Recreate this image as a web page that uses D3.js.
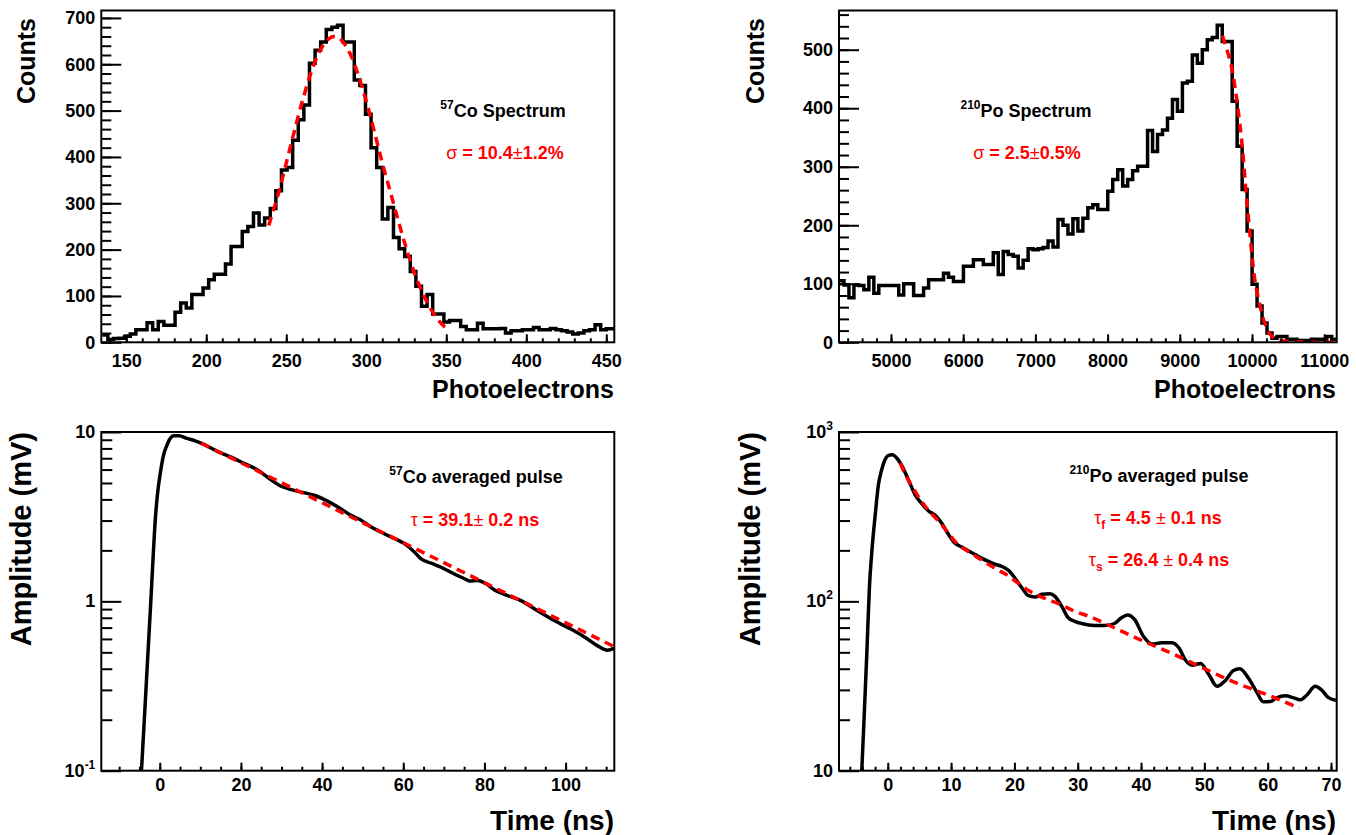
<!DOCTYPE html>
<html>
<head>
<meta charset="utf-8">
<title>Co-57 / Po-210 spectra and pulses</title>
<script src="https://cdn.jsdelivr.net/npm/d3@7/dist/d3.min.js"></script>
<style>
  body { margin: 0; background: #fff; }
  svg text { font-family: "Liberation Sans", Arial, Helvetica, sans-serif; font-weight: bold; fill: #000; }
  .tick text { font-size: 18px; }
  .tick line { stroke: #000; stroke-width: 2px; }
  .frame { fill: none; stroke: #000; stroke-width: 2px; }
  .hist, .pulse { fill: none; stroke: #000; stroke-width: 3.5px; }
  .fit { fill: none; stroke: #ff0000; stroke-width: 3.5px; stroke-dasharray: 9,6; }
  .red { fill: #ff0000; }
</style>
</head>
<body>
<svg id="chart" width="1356" height="835"></svg>
<script>

// ---- 57Co spectrum (top left) ----
var coBinLow = 135, coBinWidth = 3.5;
var coCounts = [16, 6, 8, 9, 13, 18, 27, 27, 42, 27, 45, 37, 37, 65, 85, 74, 103, 103, 117, 135,
  147, 147, 169, 207, 207, 239, 250, 279, 253, 268, 289, 327, 372, 377, 436, 480, 512, 602, 630, 648,
  675, 680, 684, 648, 648, 566, 554, 492, 420, 377, 266, 291, 226, 202, 185, 153, 121, 78, 103, 61,
  61, 44, 47, 47, 34, 27, 27, 41, 29, 29, 29, 30, 20, 25, 25, 27, 27, 32, 27, 27,
  30, 27, 25, 22, 18, 20, 25, 27, 38, 27, 29, 29];
var coFit = [[239, 252], [242, 285], [245, 320], [250, 387], [255, 455], [260, 520], [265, 577],
  [270, 622], [275, 650], [280, 660], [285, 650], [290, 622], [295, 577], [300, 520], [305, 455],
  [310, 387], [315, 325], [320, 262], [325, 203], [330, 150], [335, 108], [340, 74], [345, 48], [351, 27]];
var coTicks = [150, 200, 250, 300, 350, 400, 450];

// ---- 210Po spectrum (top right) ----
var poBinLow = 4280, poBinWidth = 68.93;
var poCounts = [105, 98, 76, 98, 97, 90, 111, 84, 97, 97, 97, 97, 81, 100, 100, 80, 80, 93, 107, 107,
  107, 118, 111, 104, 104, 130, 130, 141, 141, 133, 133, 153, 116, 155, 150, 147, 127, 140, 160, 158,
  160, 162, 173, 163, 210, 200, 185, 211, 190, 212, 230, 235, 227, 227, 258, 278, 295, 267, 278, 293,
  301, 301, 362, 326, 355, 363, 383, 415, 395, 443, 446, 491, 477, 500, 517, 521, 542, 514, 514, 412,
  335, 261, 190, 99, 62, 33, 16, 7, 10, 10, 5, 5, 3, 3, 3, 5, 5, 5, 10, 5];
var poFit = [[9590, 524], [9660, 497], [9729, 463], [9798, 406], [9867, 332], [9913, 264], [9959, 201],
  [10029, 116], [10098, 70], [10167, 36], [10237, 16], [10300, 8], [10352, 5], [10467, 2], [10600, 1], [11173, 0]];
var poTicks = [5000, 6000, 7000, 8000, 9000, 10000, 11000];

// ---- 57Co averaged pulse (bottom left) ----
var coPulse = [[-4.5, 0.1], [-3.8, 0.2], [-3.0, 0.45], [-2.2, 1.0], [-1.7, 1.7], [-1.2, 2.8], [-0.6, 4.2],
  [0.25, 5.95], [1.0, 7.4], [1.64, 8.2], [2.5, 9.1], [3.5, 9.5], [4.8, 9.5], [6.5, 9.2], [8.6, 8.9],
  [11.1, 8.4], [14.3, 7.66], [17.6, 7.1], [20.9, 6.5], [24.2, 5.95], [27.5, 5.2], [29.9, 4.78],
  [32.4, 4.57], [35.7, 4.37], [38.1, 4.23], [40.6, 3.99], [43.9, 3.61], [47.1, 3.22], [49.2, 3.05],
  [52.1, 2.75], [56.2, 2.45], [60.3, 2.19], [62.8, 1.95], [64.4, 1.78], [66.9, 1.68], [69.3, 1.59],
  [72.6, 1.45], [75.1, 1.36], [76.3, 1.32], [78.4, 1.33], [80.4, 1.27], [82.4, 1.17], [84.9, 1.10],
  [89.0, 1.01], [93.1, 0.88], [97.2, 0.77], [101.3, 0.686], [105.4, 0.60], [107.9, 0.546],
  [110.3, 0.515], [112, 0.53]];
var coPulseFit = [[10.2, 8.6], [112, 0.54]];
var coPulseTicks = [0, 20, 40, 60, 80, 100];

// ---- 210Po averaged pulse (bottom right) ----
var poPulse = [[-4.1, 10], [-3.7, 22], [-3.3, 50], [-2.9, 120], [-2.5, 200], [-2.0, 318], [-1.47, 489],
  [-0.95, 600], [-0.42, 687], [0.1, 728], [0.74, 735], [1.42, 702], [2.2, 635], [3.26, 522], [4.3, 427],
  [5.4, 376], [6.4, 343], [7.5, 322], [8.5, 290], [9.6, 248], [10.6, 221], [11.7, 209], [12.7, 199],
  [13.8, 189], [14.8, 180], [15.9, 172], [16.9, 166], [18.0, 161], [19.1, 152], [20.1, 137], [21.2, 120],
  [22.2, 108], [23.3, 106], [24.3, 110], [25.6, 111], [26.4, 107], [27.5, 93], [28.5, 80], [29.6, 76],
  [30.6, 74], [32.7, 72], [34.3, 72], [35.8, 74], [36.9, 80], [37.9, 83], [39.0, 78], [40.4, 62],
  [41.7, 56], [43.3, 57], [44.9, 57], [46.0, 53], [47.0, 45], [48.1, 42], [49.4, 43], [50.7, 37],
  [52.0, 31.5], [53.3, 34], [54.6, 39], [55.6, 40], [57.0, 35], [58.3, 29], [59.3, 25.5], [60.4, 25.6],
  [61.4, 26.9], [62.8, 27.7], [64.1, 26.9], [65.1, 26.2], [66.2, 28], [67.5, 31.5], [68.5, 30],
  [69.6, 27], [70.9, 26]];
var poPulseFit = [[1.95, 656], [3.0, 540], [4.3, 447], [5.3, 390], [6.4, 347], [7.5, 312], [8.5, 284],
  [9.6, 252], [10.6, 226], [12.7, 197], [14.8, 176], [16.9, 157], [19.1, 141], [21.2, 123], [23.3, 110],
  [25.4, 102], [27.5, 95], [29.6, 87], [31.7, 82], [35, 72], [40, 59], [45, 49], [50, 40], [55, 33],
  [60, 28], [65, 23.4]];
var poPulseTicks = [0, 10, 20, 30, 40, 50, 60, 70];

var svg = d3.select("#chart");
var defs = svg.append("defs");

var leftBox = {x0: 101.3, x1: 614.3}, rightBox = {x0: 839, x1: 1336.7};
var topBox = {y0: 10.5, y1: 342.3}, botBox = {y0: 432, y1: 770.7};

function clipFor(id, b) {
  defs.append("clipPath").attr("id", id).append("rect")
    .attr("x", b.x0).attr("y", b.y0).attr("width", b.x1 - b.x0).attr("height", b.y1 - b.y0);
  return "url(#" + id + ")";
}

function histPoints(low, width, counts) {
  var pts = counts.map(function(c, i) { return [low + i * width, c]; });
  pts.push([low + counts.length * width, counts[counts.length - 1]]);
  return pts;
}

function range(a, b, s) {
  var out = [];
  for (var v = a; v <= b + 1e-9; v += s) out.push(+v.toFixed(6));
  return out;
}

function xAxes(x, b, major, minor, pad) {
  svg.append("g").attr("transform", "translate(0," + b.y1 + ")")
    .call(d3.axisBottom(x).tickValues(minor).tickSize(-4).tickFormat(""))
    .call(function(g) { g.select(".domain").remove(); });
  svg.append("g").attr("transform", "translate(0," + b.y1 + ")")
    .call(d3.axisBottom(x).tickValues(major).tickSize(-8).tickPadding(pad).tickFormat(d3.format("d")))
    .call(function(g) { g.select(".domain").remove(); });
}

function linYAxes(y, b, major, minor) {
  svg.append("g").attr("transform", "translate(" + b.x0 + ",0)")
    .call(d3.axisLeft(y).tickValues(minor).tickSize(-10).tickFormat(""))
    .call(function(g) { g.select(".domain").remove(); });
  svg.append("g").attr("transform", "translate(" + b.x0 + ",0)")
    .call(d3.axisLeft(y).tickValues(major).tickSize(-20).tickPadding(6).tickFormat(d3.format("d")))
    .call(function(g) { g.select(".domain").remove(); });
}

function logYAxes(y, b, decades) {
  var minor = [];
  decades.slice(0, -1).forEach(function(d) { for (var k = 2; k <= 9; k++) minor.push(d * k); });
  svg.append("g").attr("transform", "translate(" + b.x0 + ",0)")
    .call(d3.axisLeft(y).tickValues(minor).tickSize(-11).tickFormat(""))
    .call(function(g) { g.select(".domain").remove(); });
  svg.append("g").attr("transform", "translate(" + b.x0 + ",0)")
    .call(d3.axisLeft(y).tickValues(decades).tickSize(-20).tickFormat(""))
    .call(function(g) { g.select(".domain").remove(); });
  decades.forEach(function(d) {
    var e = Math.round(Math.log10(d));
    var t = svg.append("text").attr("text-anchor", "end").attr("font-size", 18)
      .attr("x", b.x0 - 6).attr("y", y(d) + 6);
    if (e === 0) t.text("1");
    else if (e === 1) t.text("10");
    else {
      t.append("tspan").text("10");
      t.append("tspan").attr("font-size", 12).attr("dy", -8).text(e);
    }
  });
}

function frame(b) {
  svg.append("rect").attr("class", "frame")
    .attr("x", b.x0).attr("y", b.y0).attr("width", b.x1 - b.x0).attr("height", b.y1 - b.y0);
}

function yTitle(x0, y0, txt, size) {
  svg.append("text").attr("transform", "translate(" + x0 + "," + y0 + ") rotate(-90)")
    .attr("text-anchor", "end").attr("font-size", size).text(txt);
}

function xTitle(x0, y0, txt, size) {
  svg.append("text").attr("x", x0).attr("y", y0).attr("text-anchor", "end")
    .attr("font-size", size).text(txt);
}

function label(cx, y, parts, red) {
  var t = svg.append("text").attr("x", cx).attr("y", y).attr("text-anchor", "middle")
    .attr("font-size", 18).attr("class", red ? "red" : null);
  parts.forEach(function(p) {
    var s = t.append("tspan").text(p.t);
    if (p.sup) s.attr("font-size", 12).attr("dy", -8);
    if (p.sub) s.attr("font-size", 12).attr("dy", 5);
    if (p.back) s.attr("dy", p.back);
    if (p.normal) s.attr("font-weight", "normal");
  });
}

// ---------- top left ----------
(function() {
  var b = {x0: leftBox.x0, x1: leftBox.x1, y0: topBox.y0, y1: topBox.y1};
  var x = d3.scaleLinear().domain([134.4, 455]).range([b.x0, b.x1]);
  var y = d3.scaleLinear().domain([0, 716]).range([b.y1, b.y0]);
  var clip = clipFor("c1", b);
  var line = d3.line().x(function(d) { return x(d[0]); }).y(function(d) { return y(d[1]); });
  svg.append("path").attr("class", "hist").attr("clip-path", clip)
    .attr("d", line.curve(d3.curveStepAfter)(histPoints(coBinLow, coBinWidth, coCounts)));
  svg.append("path").attr("class", "fit").attr("clip-path", clip)
    .attr("d", line.curve(d3.curveMonotoneX)(coFit));
  xAxes(x, b, coTicks, range(140, 450, 10), 12);
  linYAxes(y, b, range(0, 700, 100), range(0, 700, 20));
  frame(b);
  yTitle(35, 18, "Counts", 25);
  xTitle(614, 398, "Photoelectrons", 25);
  label(503, 117, [{t: "57", sup: true}, {t: "Co Spectrum", back: 8}]);
  label(505, 159, [{t: "\u03c3", normal: true}, {t: " = 10.4"}, {t: "\u00b1", normal: true}, {t: "1.2%"}], true);
})();

// ---------- top right ----------
(function() {
  var b = {x0: rightBox.x0, x1: rightBox.x1, y0: topBox.y0, y1: topBox.y1};
  var x = d3.scaleLinear().domain([4280, 11173]).range([b.x0, b.x1]);
  var y = d3.scaleLinear().domain([0, 567]).range([b.y1, b.y0]);
  var clip = clipFor("c2", b);
  var line = d3.line().x(function(d) { return x(d[0]); }).y(function(d) { return y(d[1]); });
  svg.append("path").attr("class", "hist").attr("clip-path", clip)
    .attr("d", line.curve(d3.curveStepAfter)(histPoints(poBinLow, poBinWidth, poCounts)));
  svg.append("path").attr("class", "fit").attr("clip-path", clip)
    .attr("d", line.curve(d3.curveMonotoneX)(poFit));
  xAxes(x, b, poTicks, range(4400, 11000, 200), 12);
  linYAxes(y, b, range(0, 500, 100), range(0, 560, 20));
  frame(b);
  yTitle(764, 18, "Counts", 25);
  xTitle(1336, 398, "Photoelectrons", 25);
  label(1026, 117, [{t: "210", sup: true}, {t: "Po Spectrum", back: 8}]);
  label(1027, 159, [{t: "\u03c3", normal: true}, {t: " = 2.5"}, {t: "\u00b1", normal: true}, {t: "0.5%"}], true);
})();

// ---------- bottom left ----------
(function() {
  var b = {x0: leftBox.x0, x1: leftBox.x1, y0: botBox.y0, y1: botBox.y1};
  var x = d3.scaleLinear().domain([-14.4, 112]).range([b.x0, b.x1]);
  var y = d3.scaleLog().domain([0.1, 10]).range([b.y1, b.y0]);
  var clip = clipFor("c3", b);
  var line = d3.line().x(function(d) { return x(d[0]); }).y(function(d) { return y(d[1]); });
  svg.append("path").attr("class", "pulse").attr("clip-path", clip)
    .attr("d", line.curve(d3.curveMonotoneX)(coPulse));
  svg.append("path").attr("class", "fit").attr("clip-path", clip)
    .attr("d", line.curve(d3.curveLinear)(coPulseFit));
  xAxes(x, b, coPulseTicks, range(-10, 110, 5), 8);
  logYAxes(y, b, [0.1, 1, 10]);
  frame(b);
  yTitle(31, 432, "Amplitude (mV)", 29);
  xTitle(614, 830, "Time (ns)", 28);
  label(476, 483, [{t: "57", sup: true}, {t: "Co averaged pulse", back: 8}]);
  label(475, 526, [{t: "\u03c4", normal: true}, {t: " = 39.1"}, {t: "\u00b1", normal: true}, {t: " 0.2 ns"}], true);
})();

// ---------- bottom right ----------
(function() {
  var b = {x0: rightBox.x0, x1: rightBox.x1, y0: botBox.y0, y1: botBox.y1};
  var x = d3.scaleLinear().domain([-7.7, 70.9]).range([b.x0, b.x1]);
  var y = d3.scaleLog().domain([10, 1000]).range([b.y1, b.y0]);
  var clip = clipFor("c4", b);
  var line = d3.line().x(function(d) { return x(d[0]); }).y(function(d) { return y(d[1]); });
  svg.append("path").attr("class", "pulse").attr("clip-path", clip)
    .attr("d", line.curve(d3.curveMonotoneX)(poPulse));
  svg.append("path").attr("class", "fit").attr("clip-path", clip)
    .attr("d", line.curve(d3.curveMonotoneX)(poPulseFit));
  xAxes(x, b, poPulseTicks, range(-6, 70, 2), 8);
  logYAxes(y, b, [10, 100, 1000]);
  frame(b);
  yTitle(760, 432, "Amplitude (mV)", 29);
  xTitle(1336, 830, "Time (ns)", 28);
  label(1159, 482, [{t: "210", sup: true}, {t: "Po averaged pulse", back: 8}]);
  label(1158, 524, [{t: "\u03c4", normal: true}, {t: "f", sub: true}, {t: " = 4.5 ", back: -5},
    {t: "\u00b1", normal: true}, {t: " 0.1 ns"}], true);
  label(1159, 566, [{t: "\u03c4", normal: true}, {t: "s", sub: true}, {t: " = 26.4 ", back: -5},
    {t: "\u00b1", normal: true}, {t: " 0.4 ns"}], true);
})();

</script>
</body>
</html>
